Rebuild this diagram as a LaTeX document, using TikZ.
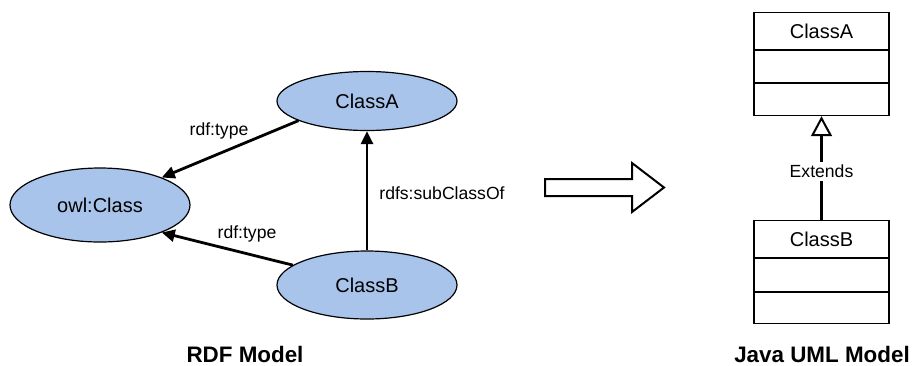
\documentclass[tikz,border=0pt]{standalone}
\usepackage{fontspec}
\setmainfont{Liberation Sans}
\usetikzlibrary{shapes.geometric,arrows.meta}

\definecolor{nodeblue}{HTML}{A9C4EB}

\tikzset{
  rdfnode/.style={ellipse, draw=black, line width=1.2pt, fill=nodeblue,
    minimum width=180pt, inner sep=0pt, font=\fontsize{20}{24}\selectfont},
  rdfedge/.style={line width=2.8pt, -{Triangle[length=13pt,width=12pt]}},
  edgelabel/.style={inner sep=1pt, font=\fontsize{17.6}{21}\selectfont},
  umlbox/.style={rectangle, draw=black, line width=1.2pt, minimum width=135pt,
    minimum height=103pt, inner sep=0pt},
  umlname/.style={inner sep=0pt, font=\fontsize{20}{24}\selectfont},
  divider/.style={line width=1.2pt},
  extends/.style={line width=2.5pt, -{Triangle[open,length=20pt,width=21pt,fill=white,line width=2pt]}},
  title/.style={font=\bfseries\fontsize{22.4}{27}\selectfont, inner sep=0pt},
  bigarrow/.style={draw=black, line width=2pt, fill=white, line join=miter}
}

\begin{document}
\begin{tikzpicture}[x=1pt, y=-1pt]
  \useasboundingbox (0,0) rectangle (915,365);

  % RDF graph
  \node[rdfnode, minimum height=59pt] (A) at (367,101) {ClassA};
  \node[rdfnode, minimum height=74pt] (owl) at (100,205) {owl:Class};
  \node[rdfnode, minimum height=68pt] (B) at (367,285) {ClassB};

  \draw[rdfedge] (A.196) -- (owl.24);
  \draw[rdfedge] (B.165) -- (owl.336);
  \draw[rdfedge] (B.north) -- (A.south);

  \node[edgelabel] (l1) at (219,131) {rdf:type};
  \node[edgelabel] (l2) at (247,234) {rdf:type};
  \node[edgelabel] (l3) at (442,193) {rdfs:subClassOf};

  % transformation arrow
  \draw[bigarrow] (545,179) -- (632,179) -- (632,163) -- (664,187.5)
    -- (632,212) -- (632,196) -- (545,196) -- cycle;

  % UML classes: box, name and two compartment dividers
  \node[umlbox, anchor=north] (ca) at (821.5,12) {};
  \node[umlname] (caname) at ([yshift=-19pt]ca.north) {ClassA};
  \draw[divider] ([yshift=-38pt]ca.north west) -- ([yshift=-38pt]ca.north east);
  \draw[divider] ([yshift=-71pt]ca.north west) -- ([yshift=-71pt]ca.north east);

  \node[umlbox, anchor=north] (cb) at (821.5,220) {};
  \node[umlname] (cbname) at ([yshift=-19pt]cb.north) {ClassB};
  \draw[divider] ([yshift=-38pt]cb.north west) -- ([yshift=-38pt]cb.north east);
  \draw[divider] ([yshift=-72pt]cb.north west) -- ([yshift=-72pt]cb.north east);

  \draw[extends] (cb.north) -- node[edgelabel, fill=white, inner sep=3pt, pos=0.47] (ext) {Extends} (ca.south);

  % captions
  \node[title] (t1) at (245,354) {RDF Model};
  \node[title] (t2) at (822,354) {Java UML Model};
\end{tikzpicture}
\end{document}
